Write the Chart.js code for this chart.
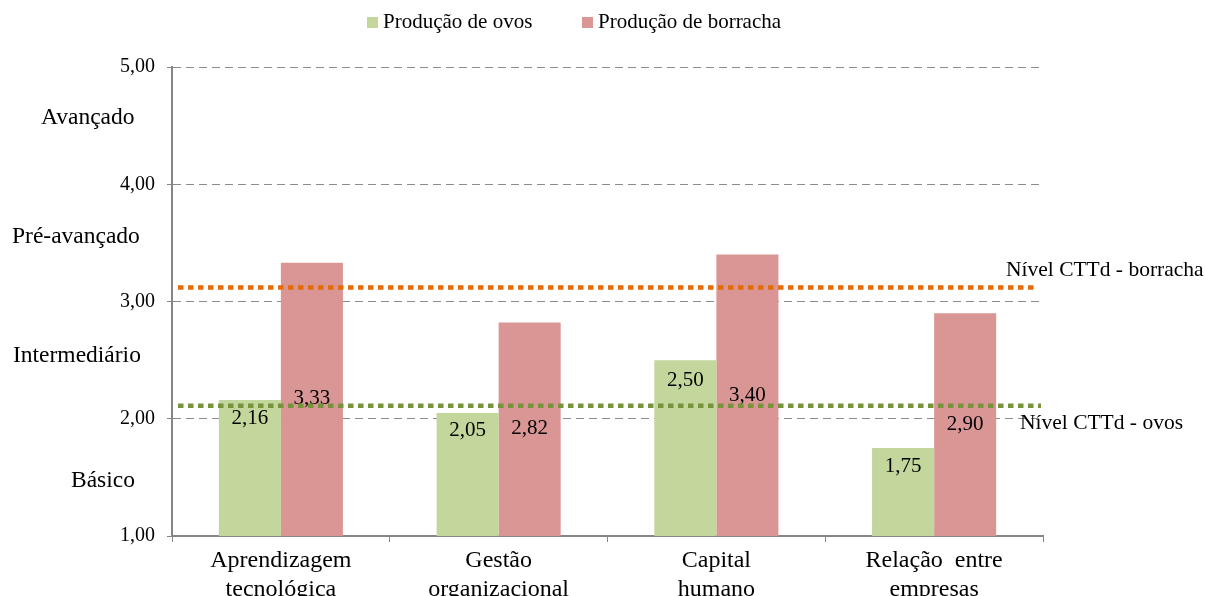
<!DOCTYPE html>
<html>
<head>
<meta charset="utf-8">
<script src="https://cdn.jsdelivr.net/npm/chart.js@4"></script>
<style>
  html, body { margin: 0; padding: 0; background: #fff; }
  #wrap { width: 1205px; height: 596px; position: relative; }
</style>
</head>
<body>
<div id="wrap"><canvas id="c" width="1205" height="596"></canvas></div>
<script>
const categories = [['Aprendizagem', 'tecnológica'], ['Gestão', 'organizacional'], ['Capital', 'humano'], ['Relação  entre', 'empresas']];
const seriesNames = ['Produção de ovos', 'Produção de borracha'];
const ovos = [2.16, 2.05, 2.50, 1.75];
const borracha = [3.33, 2.82, 3.40, 2.90];
const cttdBorracha = 3.12;
const cttdOvos = 2.11;
const cttdLabels = ['Nível CTTd - borracha', 'Nível CTTd - ovos'];
const yTickLabels = ['1,00', '2,00', '3,00', '4,00', '5,00'];
const levelNames = ['Avançado', 'Pré-avançado', 'Intermediário', 'Básico'];
const levelValues = [4.51, 3.50, 2.48, 1.42];

const FONT = '"Liberation Serif", "Times New Roman", serif';
const fmt = v => v.toFixed(2).replace('.', ',');

const overlay = {
  id: 'overlay',
  afterDatasetsDraw(chart, args, opts) {
    const ctx = chart.ctx;
    const y = chart.scales.y;
    const area = chart.chartArea;
    ctx.save();
    // value labels
    ctx.font = '21px ' + FONT;
    ctx.fillStyle = '#000';
    ctx.textAlign = 'center';
    ctx.textBaseline = 'middle';
    chart.data.datasets.forEach((ds, di) => {
      const meta = chart.getDatasetMeta(di);
      meta.data.forEach((bar, i) => {
        ctx.fillText(fmt(ds.data[i]), bar.x, y.getPixelForValue(opts.labelAt[di][i]));
      });
    });
    // reference lines
    const refs = [
      { v: cttdBorracha, color: '#E36C09', end: 1037, text: cttdLabels[0], tx: 1006, ty: 276 },
      { v: cttdOvos, color: '#77933C', end: 1041, text: cttdLabels[1], tx: 1020, ty: 429 }
    ];
    refs.forEach(r => {
      const py = y.getPixelForValue(r.v);
      ctx.beginPath();
      ctx.setLineDash([5.5, 4.5]);
      ctx.lineWidth = 4.5;
      ctx.lineCap = 'butt';
      ctx.strokeStyle = r.color;
      ctx.moveTo(area.left + 6, py);
      ctx.lineTo(r.end, py);
      ctx.stroke();
    });
    ctx.setLineDash([]);
    ctx.font = '21.5px ' + FONT;
    ctx.textAlign = 'left';
    ctx.textBaseline = 'alphabetic';
    ctx.fillStyle = '#000';
    refs.forEach(r => ctx.fillText(r.text, r.tx, r.ty));
    // level names
    ctx.font = '23.5px ' + FONT;
    const lx = [41, 12, 13, 71];
    levelNames.forEach((n, i) => ctx.fillText(n, lx[i], y.getPixelForValue(levelValues[i])));
    // legend
    ctx.font = '21px ' + FONT;
    const lg = [{ bx: 367, tx: 383 }, { bx: 582, tx: 598 }];
    chart.data.datasets.forEach((ds, di) => {
      ctx.fillStyle = ds.backgroundColor;
      ctx.fillRect(lg[di].bx, 17, 11, 11);
      ctx.fillStyle = '#000';
      ctx.fillText(ds.label, lg[di].tx, 28);
    });
    ctx.restore();
  }
};

new Chart(document.getElementById('c'), {
  type: 'bar',
  data: {
    labels: categories,
    datasets: [
      { label: seriesNames[0], data: ovos, backgroundColor: '#C3D69B', borderWidth: 0 },
      { label: seriesNames[1], data: borracha, backgroundColor: '#D99694', borderWidth: 0 }
    ]
  },
  options: {
    responsive: false,
    maintainAspectRatio: false,
    animation: false,
    devicePixelRatio: 1,
    layout: { padding: { left: 0, right: 162, top: 67, bottom: 0 } },
    datasets: { bar: { categoryPercentage: 0.57, barPercentage: 1.0 } },
    plugins: {
      legend: { display: false },
      tooltip: { enabled: false },
      overlay: { labelAt: [[2.00, 1.90, 2.33, 1.59], [2.17, 1.92, 2.20, 1.95]] }
    },
    scales: {
      x: {
        afterFit(s) { s.height = 60; },
        grid: { display: true, offset: true, drawOnChartArea: false, drawTicks: true, tickLength: 6, color: '#868686', tickColor: '#868686' },
        border: { display: true, color: '#868686', width: 2 },
        ticks: { color: '#000', padding: 4, font: { family: FONT, size: 24, lineHeight: 1.21 }, maxRotation: 0, autoSkip: false }
      },
      y: {
        min: 1, max: 5,
        afterFit(s) { s.width = 172; },
        ticks: { stepSize: 1, color: '#000', padding: 12, font: { family: FONT, size: 20 },
          callback: (v, i) => yTickLabels[i] },
        grid: { color: '#8c8c8c', lineWidth: 1, drawTicks: true, tickLength: 5, tickColor: '#868686', tickBorderDash: [] },
        border: { display: true, color: '#868686', width: 2, dash: [8, 5] }
      }
    }
  },
  plugins: [overlay]
});
</script>
</body>
</html>
